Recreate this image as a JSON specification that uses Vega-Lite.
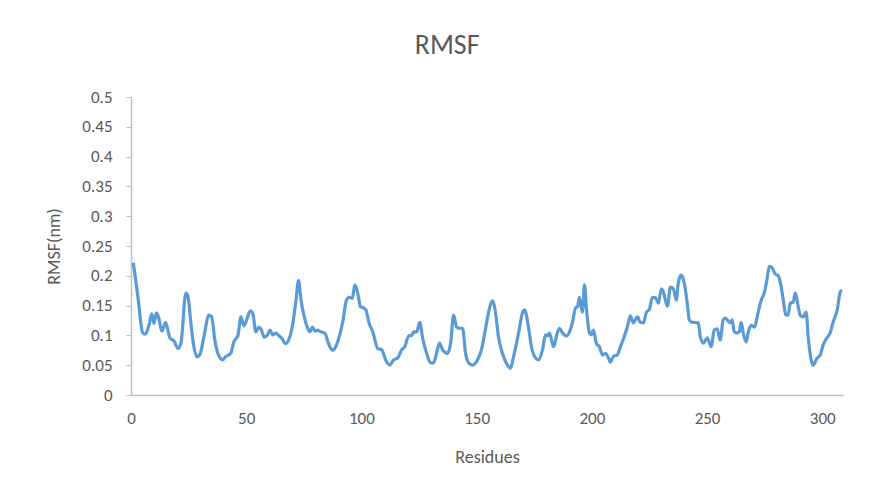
{
  "$schema": "https://vega.github.io/schema/vega-lite/v6.json",
  "width": 712,
  "height": 298,
  "autosize": {"type": "none"},
  "padding": {"left": 131, "top": 97, "right": 29, "bottom": 105},
  "background": "white",
  "title": {"text": "RMSF", "fontSize": 28, "font": "Carlito, Liberation Sans Narrow, Roboto, sans-serif", "fontWeight": "normal", "color": "#595959", "anchor": "middle", "frame": "bounds", "offset": 28},
  "config": {"view": {"stroke": null}},
  "data": {"values": [
    {"residue": 1, "rmsf": 0.222}, {"residue": 3, "rmsf": 0.165}, {"residue": 5, "rmsf": 0.105}, {"residue": 6, "rmsf": 0.102},
    {"residue": 8, "rmsf": 0.12}, {"residue": 9, "rmsf": 0.136}, {"residue": 10, "rmsf": 0.12}, {"residue": 11, "rmsf": 0.138},
    {"residue": 12, "rmsf": 0.13}, {"residue": 13.4, "rmsf": 0.107}, {"residue": 15, "rmsf": 0.122}, {"residue": 16, "rmsf": 0.109},
    {"residue": 17, "rmsf": 0.095}, {"residue": 18.6, "rmsf": 0.091}, {"residue": 20.4, "rmsf": 0.078}, {"residue": 21.7, "rmsf": 0.087},
    {"residue": 23.8, "rmsf": 0.171}, {"residue": 24.6, "rmsf": 0.168}, {"residue": 26, "rmsf": 0.12}, {"residue": 27.3, "rmsf": 0.081},
    {"residue": 28.6, "rmsf": 0.064}, {"residue": 30, "rmsf": 0.069}, {"residue": 31.6, "rmsf": 0.097}, {"residue": 33.8, "rmsf": 0.134},
    {"residue": 35, "rmsf": 0.131}, {"residue": 36.4, "rmsf": 0.092}, {"residue": 38, "rmsf": 0.067}, {"residue": 39.8, "rmsf": 0.059},
    {"residue": 41, "rmsf": 0.064}, {"residue": 43.3, "rmsf": 0.07}, {"residue": 44.6, "rmsf": 0.089}, {"residue": 46.4, "rmsf": 0.1},
    {"residue": 47.7, "rmsf": 0.131}, {"residue": 49, "rmsf": 0.116}, {"residue": 51.8, "rmsf": 0.141}, {"residue": 52.9, "rmsf": 0.136},
    {"residue": 54.2, "rmsf": 0.106}, {"residue": 55.6, "rmsf": 0.114}, {"residue": 56.6, "rmsf": 0.109}, {"residue": 57.8, "rmsf": 0.097},
    {"residue": 59.3, "rmsf": 0.101}, {"residue": 60.3, "rmsf": 0.109}, {"residue": 61.5, "rmsf": 0.101}, {"residue": 62.9, "rmsf": 0.104},
    {"residue": 64.3, "rmsf": 0.099}, {"residue": 65.7, "rmsf": 0.094}, {"residue": 66.9, "rmsf": 0.086}, {"residue": 68.4, "rmsf": 0.092},
    {"residue": 70.1, "rmsf": 0.117}, {"residue": 71.6, "rmsf": 0.159}, {"residue": 72.7, "rmsf": 0.192}, {"residue": 73.8, "rmsf": 0.159},
    {"residue": 75.2, "rmsf": 0.131}, {"residue": 76.2, "rmsf": 0.117}, {"residue": 77.6, "rmsf": 0.106}, {"residue": 78.8, "rmsf": 0.114},
    {"residue": 79.8, "rmsf": 0.107}, {"residue": 81, "rmsf": 0.109}, {"residue": 82.4, "rmsf": 0.106}, {"residue": 84.2, "rmsf": 0.104},
    {"residue": 85.3, "rmsf": 0.091}, {"residue": 86.7, "rmsf": 0.078}, {"residue": 87.6, "rmsf": 0.075}, {"residue": 89.2, "rmsf": 0.084},
    {"residue": 90.6, "rmsf": 0.101}, {"residue": 91.9, "rmsf": 0.123}, {"residue": 93.5, "rmsf": 0.159}, {"residue": 94.8, "rmsf": 0.164},
    {"residue": 96.1, "rmsf": 0.162}, {"residue": 97.1, "rmsf": 0.185}, {"residue": 98.4, "rmsf": 0.171}, {"residue": 99.6, "rmsf": 0.148},
    {"residue": 101, "rmsf": 0.146}, {"residue": 101.9, "rmsf": 0.143}, {"residue": 103.3, "rmsf": 0.121}, {"residue": 104.9, "rmsf": 0.106},
    {"residue": 107.1, "rmsf": 0.078}, {"residue": 108.8, "rmsf": 0.076}, {"residue": 110.5, "rmsf": 0.059}, {"residue": 112.3, "rmsf": 0.05},
    {"residue": 114, "rmsf": 0.059}, {"residue": 115.7, "rmsf": 0.062}, {"residue": 117.5, "rmsf": 0.076}, {"residue": 118.8, "rmsf": 0.081},
    {"residue": 120.5, "rmsf": 0.099}, {"residue": 121.8, "rmsf": 0.1}, {"residue": 122.7, "rmsf": 0.106}, {"residue": 124, "rmsf": 0.106},
    {"residue": 125.3, "rmsf": 0.122}, {"residue": 126.6, "rmsf": 0.095}, {"residue": 128.3, "rmsf": 0.07}, {"residue": 130, "rmsf": 0.054},
    {"residue": 131.3, "rmsf": 0.054}, {"residue": 132.6, "rmsf": 0.07}, {"residue": 133.9, "rmsf": 0.087}, {"residue": 135.2, "rmsf": 0.076},
    {"residue": 137.4, "rmsf": 0.07}, {"residue": 138.7, "rmsf": 0.087}, {"residue": 140, "rmsf": 0.134}, {"residue": 141.3, "rmsf": 0.114},
    {"residue": 142.6, "rmsf": 0.112}, {"residue": 143.9, "rmsf": 0.112}, {"residue": 145.2, "rmsf": 0.07}, {"residue": 146.5, "rmsf": 0.054},
    {"residue": 148.2, "rmsf": 0.05}, {"residue": 150.4, "rmsf": 0.059}, {"residue": 152.1, "rmsf": 0.076}, {"residue": 153.9, "rmsf": 0.112},
    {"residue": 155.2, "rmsf": 0.139}, {"residue": 156.9, "rmsf": 0.158}, {"residue": 158.2, "rmsf": 0.138}, {"residue": 159.5, "rmsf": 0.097},
    {"residue": 161.2, "rmsf": 0.07}, {"residue": 163.4, "rmsf": 0.05}, {"residue": 164.7, "rmsf": 0.045}, {"residue": 166, "rmsf": 0.064},
    {"residue": 168.2, "rmsf": 0.104}, {"residue": 169.9, "rmsf": 0.138}, {"residue": 170.8, "rmsf": 0.143}, {"residue": 172.5, "rmsf": 0.114},
    {"residue": 173.8, "rmsf": 0.081}, {"residue": 175.6, "rmsf": 0.062}, {"residue": 176.9, "rmsf": 0.059}, {"residue": 178.6, "rmsf": 0.076},
    {"residue": 179.9, "rmsf": 0.101}, {"residue": 180.8, "rmsf": 0.099}, {"residue": 181.6, "rmsf": 0.104}, {"residue": 182.5, "rmsf": 0.092},
    {"residue": 183.4, "rmsf": 0.081}, {"residue": 185, "rmsf": 0.104}, {"residue": 186, "rmsf": 0.112}, {"residue": 187.3, "rmsf": 0.104},
    {"residue": 189, "rmsf": 0.099}, {"residue": 190.3, "rmsf": 0.106}, {"residue": 191.6, "rmsf": 0.122}, {"residue": 192.9, "rmsf": 0.146},
    {"residue": 193.8, "rmsf": 0.148}, {"residue": 194.6, "rmsf": 0.164}, {"residue": 195.9, "rmsf": 0.139}, {"residue": 196.8, "rmsf": 0.185},
    {"residue": 197.7, "rmsf": 0.143}, {"residue": 199, "rmsf": 0.104}, {"residue": 199.8, "rmsf": 0.101}, {"residue": 200.7, "rmsf": 0.109},
    {"residue": 202, "rmsf": 0.086}, {"residue": 203.3, "rmsf": 0.081}, {"residue": 204.6, "rmsf": 0.067}, {"residue": 205.9, "rmsf": 0.07},
    {"residue": 207.2, "rmsf": 0.062}, {"residue": 208, "rmsf": 0.055}, {"residue": 209.4, "rmsf": 0.065}, {"residue": 211, "rmsf": 0.067},
    {"residue": 212.4, "rmsf": 0.081}, {"residue": 213.7, "rmsf": 0.094}, {"residue": 215.4, "rmsf": 0.114}, {"residue": 216.7, "rmsf": 0.133},
    {"residue": 218, "rmsf": 0.121}, {"residue": 219.8, "rmsf": 0.131}, {"residue": 221, "rmsf": 0.122}, {"residue": 222.4, "rmsf": 0.121},
    {"residue": 223.7, "rmsf": 0.139}, {"residue": 225, "rmsf": 0.144}, {"residue": 226.3, "rmsf": 0.164}, {"residue": 227.6, "rmsf": 0.163},
    {"residue": 228.9, "rmsf": 0.154}, {"residue": 230.2, "rmsf": 0.178}, {"residue": 231, "rmsf": 0.173}, {"residue": 232.8, "rmsf": 0.149},
    {"residue": 234.1, "rmsf": 0.181}, {"residue": 235.4, "rmsf": 0.178}, {"residue": 236.7, "rmsf": 0.159}, {"residue": 237.5, "rmsf": 0.188},
    {"residue": 238.8, "rmsf": 0.201}, {"residue": 240.1, "rmsf": 0.188}, {"residue": 241.4, "rmsf": 0.154}, {"residue": 242.3, "rmsf": 0.126},
    {"residue": 243.6, "rmsf": 0.122}, {"residue": 244.5, "rmsf": 0.122}, {"residue": 246.2, "rmsf": 0.121}, {"residue": 247.1, "rmsf": 0.097},
    {"residue": 248.4, "rmsf": 0.087}, {"residue": 250.1, "rmsf": 0.096}, {"residue": 251.8, "rmsf": 0.081}, {"residue": 253.1, "rmsf": 0.109},
    {"residue": 254.4, "rmsf": 0.111}, {"residue": 255.7, "rmsf": 0.092}, {"residue": 257, "rmsf": 0.126}, {"residue": 257.9, "rmsf": 0.129},
    {"residue": 259.2, "rmsf": 0.124}, {"residue": 260.1, "rmsf": 0.121}, {"residue": 260.9, "rmsf": 0.126}, {"residue": 261.8, "rmsf": 0.106},
    {"residue": 263.1, "rmsf": 0.104}, {"residue": 264, "rmsf": 0.106}, {"residue": 264.8, "rmsf": 0.122}, {"residue": 265.7, "rmsf": 0.104},
    {"residue": 267, "rmsf": 0.089}, {"residue": 267.9, "rmsf": 0.106}, {"residue": 269.2, "rmsf": 0.117}, {"residue": 270.5, "rmsf": 0.114},
    {"residue": 272.2, "rmsf": 0.139}, {"residue": 273.5, "rmsf": 0.159}, {"residue": 274.8, "rmsf": 0.171}, {"residue": 276.1, "rmsf": 0.196},
    {"residue": 277, "rmsf": 0.216}, {"residue": 278.3, "rmsf": 0.213}, {"residue": 279.6, "rmsf": 0.203}, {"residue": 280.9, "rmsf": 0.2},
    {"residue": 282.2, "rmsf": 0.181}, {"residue": 283, "rmsf": 0.161}, {"residue": 284.3, "rmsf": 0.134}, {"residue": 285.2, "rmsf": 0.134},
    {"residue": 286.1, "rmsf": 0.154}, {"residue": 287.4, "rmsf": 0.156}, {"residue": 288.3, "rmsf": 0.171}, {"residue": 289.6, "rmsf": 0.148},
    {"residue": 290.4, "rmsf": 0.134}, {"residue": 291.7, "rmsf": 0.131}, {"residue": 293, "rmsf": 0.139}, {"residue": 293.9, "rmsf": 0.097},
    {"residue": 295.2, "rmsf": 0.059}, {"residue": 296, "rmsf": 0.05}, {"residue": 297.8, "rmsf": 0.062}, {"residue": 299.1, "rmsf": 0.067},
    {"residue": 300.4, "rmsf": 0.084}, {"residue": 302.1, "rmsf": 0.096}, {"residue": 303.4, "rmsf": 0.104}, {"residue": 304.7, "rmsf": 0.122},
    {"residue": 306.5, "rmsf": 0.143}, {"residue": 307.8, "rmsf": 0.173}, {"residue": 308.6, "rmsf": 0.176}
  ]},
  "mark": {"type": "line", "color": "#5B9BD5", "strokeWidth": 3.2, "interpolate": "monotone"},
  "encoding": {
    "x": {
      "field": "residue", "type": "quantitative",
      "scale": {"domain": [0, 309], "nice": false, "zero": true},
      "axis": {
        "title": "Residues", "values": [0, 50, 100, 150, 200, 250, 300], "format": "d",
        "grid": false, "ticks": false, "domainColor": "#bfbfbf", "domainWidth": 1.5,
        "labelPadding": 15, "titlePadding": 22, "labelFlush": false,
        "labelFont": "Carlito, Liberation Sans Narrow, Roboto, sans-serif", "titleFont": "Carlito, Liberation Sans Narrow, Roboto, sans-serif",
        "labelFontSize": 17, "titleFontSize": 18, "labelColor": "#595959", "titleColor": "#595959", "titleFontWeight": "normal"
      }
    },
    "y": {
      "field": "rmsf", "type": "quantitative",
      "scale": {"domain": [0, 0.5], "nice": false},
      "axis": {
        "title": "RMSF(nm)", "values": [0, 0.05, 0.1, 0.15, 0.2, 0.25, 0.3, 0.35, 0.4, 0.45, 0.5], "format": "~g",
        "grid": false, "ticks": true, "tickSize": 5, "tickColor": "#bfbfbf", "domainColor": "#bfbfbf", "domainWidth": 1.5,
        "labelPadding": 14, "titlePadding": 18, "labelFlush": false,
        "labelFont": "Carlito, Liberation Sans Narrow, Roboto, sans-serif", "titleFont": "Carlito, Liberation Sans Narrow, Roboto, sans-serif",
        "labelFontSize": 17, "titleFontSize": 18, "labelColor": "#595959", "titleColor": "#595959", "titleFontWeight": "normal"
      }
    }
  }
}
